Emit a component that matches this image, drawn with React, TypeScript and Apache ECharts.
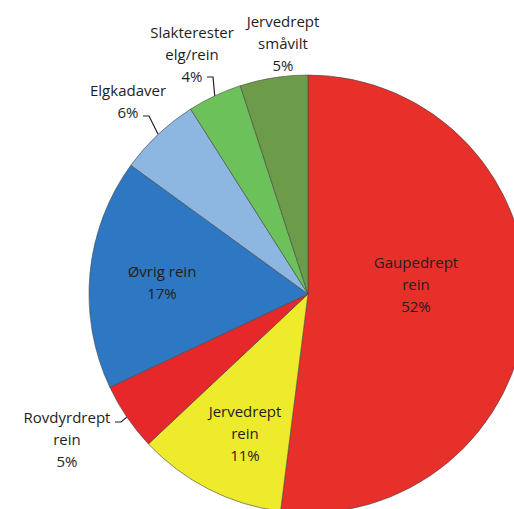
import React, { useEffect, useRef } from "react";
import * as echarts from "echarts";

const categories = [
  "Gaupedrept\nrein",
  "Jervedrept\nrein",
  "Rovdyrdrept\nrein",
  "Øvrig rein",
  "Elgkadaver",
  "Slakterester\nelg/rein",
  "Jervedrept\nsmåvilt",
];
const values = [52, 11, 5, 17, 6, 4, 5];
const colors = ["#E8302B", "#EEEA2C", "#E6282A", "#2E77C2", "#8DB7E1", "#6CC15B", "#6C9C49"];
const insideLabel = [true, true, false, true, false, false, false];
const showLeader = [false, false, true, false, true, true, false];

// layout (pixels)
const CENTER = [308, 294];
const RADIUS = 219;
const labelCenters = [
  [416, 284],
  [245, 433],
  [67, 439],
  [162, 282],
  [128, 101],
  [192, 54],
  [283, 43],
];
const leaderAttach = [null, null, [48, -17], null, [15, 15], [15, 23], null];

export default function App() {
  const ref = useRef<HTMLDivElement>(null);
  useEffect(() => {
    if (!ref.current) return;
    const chart = echarts.init(ref.current, undefined, { renderer: "svg" });
    const total = values.reduce((a, b) => a + b, 0);
    const midAngles: number[] = [];
    let acc = 0;
    values.forEach((v) => {
      midAngles.push(((acc + v / 2) / total) * 2 * Math.PI);
      acc += v;
    });
    chart.setOption({
      animation: false,
      backgroundColor: "#ffffff",
      series: [
        {
          type: "pie",
          center: CENTER,
          radius: RADIUS,
          startAngle: 90,
          clockwise: true,
          avoidLabelOverlap: false,
          itemStyle: { borderColor: "rgba(70,70,70,0.75)", borderWidth: 0.8 },
          label: {
            formatter: "{b}\n{c}%",
            fontFamily: "Open Sans",
            fontSize: 15,
            lineHeight: 22,
            color: "#1e1e1e",
            align: "center",
          },
          labelLine: { show: true, lineStyle: { color: "#222", width: 1.2 } },
          data: values.map((v, i) => ({
            value: v,
            name: categories[i],
            itemStyle: { color: colors[i] },
            label: { position: insideLabel[i] ? "inside" : "outside" },
            labelLine: { show: showLeader[i] },
          })),
          labelLayout: (p: any) => {
            const i = p.dataIndex;
            const [x, y] = labelCenters[i];
            const out: any = { x, y, align: "center", verticalAlign: "middle" };
            const att = leaderAttach[i];
            if (att) {
              const a = midAngles[i];
              const sx = CENTER[0] + Math.sin(a) * RADIUS;
              const sy = CENTER[1] - Math.cos(a) * RADIUS;
              const ex = x + att[0];
              const ey = y + att[1];
              out.labelLinePoints = [
                [sx, sy],
                [ex + 6, ey],
                [ex, ey],
              ];
            }
            return out;
          },
        },
      ],
    });
    return () => chart.dispose();
  }, []);
  return (
    <div
      ref={ref}
      style={{ position: "absolute", left: 0, top: 0, width: 514, height: 509 }}
    />
  );
}
